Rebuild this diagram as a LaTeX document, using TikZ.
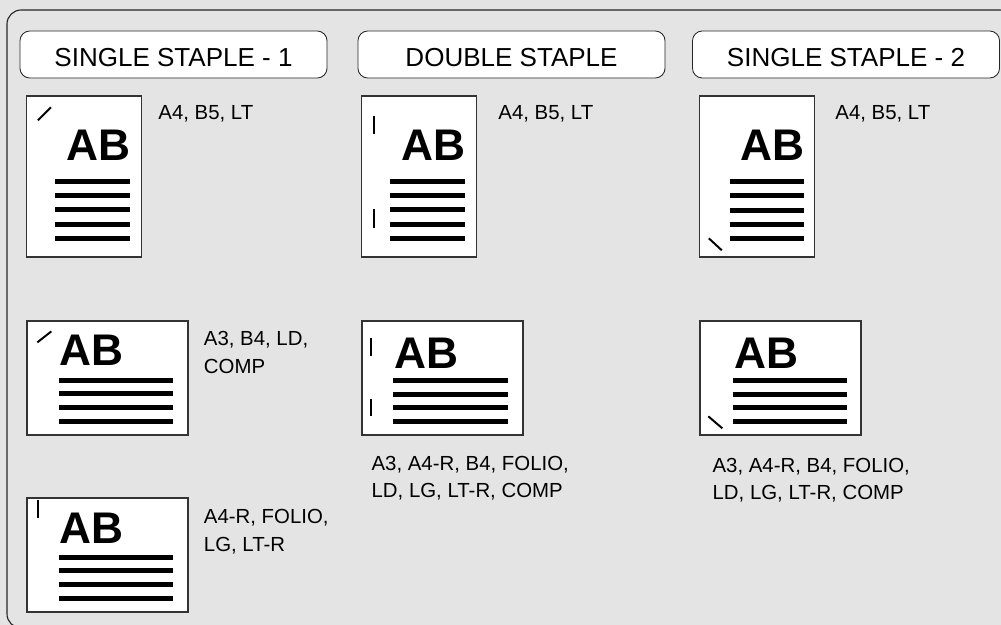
\documentclass[tikz,border=0pt]{standalone}
\usepackage{fontspec}
\setmainfont{Liberation Sans}
\usepackage{xcolor}
\usetikzlibrary{positioning, calc}

\definecolor{bggray}{HTML}{E4E4E4}

\begin{document}
\begin{tikzpicture}[
    x=0.025cm, y=-0.025cm,
    font=\fontsize{14.5}{19.5}\selectfont,
    every node/.style={inner sep=0pt},
    header/.style={draw=black!85, fill=white, rounded corners=7pt, line width=0.6pt,
                   minimum width=7.675cm, minimum height=1.175cm,
                   text height=16.9pt, text depth=0pt,
                   font=\fontsize{18.5}{22}\selectfont},
    portrait/.style={draw=black!80, fill=white, line width=0.9pt,
                     minimum width=2.875cm, minimum height=4.025cm},
    landscape/.style={draw=black!80, fill=white, line width=0.9pt,
                      minimum width=4.025cm, minimum height=2.85cm},
    bigab/.style={font=\fontsize{31.5}{32}\selectfont\bfseries},
    textline/.style={line width=3.6pt},
    staple/.style={line width=1.4pt},
    sizes/.style={align=left, anchor=north west},
]

% --------- Background and frame ----------
\fill[bggray, use as bounding box] (0,0) rectangle (1001,625);
\draw[black!85, line width=0.8pt, rounded corners=10pt] (7,10) rectangle (1014,628);

% --------- Headers ----------
\node[header] (ss1hd) at (173.5,54.5) {SINGLE STAPLE - 1};
\node[header] (dshd)  at (511.5,54.5) {DOUBLE STAPLE};
\node[header] (ss2hd) at (846,54.5)   {SINGLE STAPLE - 2};

% --------- Single staple - 1 ----------
\node[portrait]  (ss1port)  at (84,176.5) {};
\node[landscape] (ss1land)  at (107.5,378) {};
\node[landscape] (ss1landr) at (107.5,555) {};

\node[bigab, anchor=north east] at ($(ss1port.north west)+(105,34)$) {AB};
\node[bigab, anchor=north west] at ($(ss1land.north west)+(33,14)$) {AB};
\node[bigab, anchor=north west] at ($(ss1landr.north west)+(33,15)$) {AB};

\foreach \dy in {86,100,114,129,143}
  \draw[textline] ($(ss1port.north west)+(29,\dy)$) -- ++(75,0);
\foreach \dy in {60,73,87,101} {
  \draw[textline] ($(ss1land.north west)+(33,\dy)$) -- ++(114,0);
  \draw[textline] ($(ss1landr.north west)+(33,\dy)$) -- ++(114,0);
}

\draw[staple] ($(ss1port.north west)+(12,25)$) -- ++(13,-13);
\draw[staple] ($(ss1land.north west)+(11,22)$) -- ++(14,-11);
\draw[staple] ($(ss1landr.north west)+(12,3)$) -- ++(0,18);

\node[sizes] (ss1psz)  at ($(ss1port.north east)+(16,10)$)  {A4, B5, LT};
\node[sizes] (ss1lsz)  at ($(ss1land.north east)+(15,11)$)  {A3, B4, LD,\\COMP};
\node[sizes] (ss1rsz)  at ($(ss1landr.north east)+(15,12)$) {A4-R, FOLIO,\\LG, LT-R};

% --------- Double staple ----------
\node[portrait]  (dsport) at (419,176.5) {};
\node[landscape] (dsland) at (442.5,378) {};

\node[bigab, anchor=north east] at ($(dsport.north west)+(105,34)$) {AB};
\node[bigab, anchor=north west] at ($(dsland.north west)+(33,17)$) {AB};

\foreach \dy in {86,100,114,129,143}
  \draw[textline] ($(dsport.north west)+(29,\dy)$) -- ++(75,0);
\foreach \dy in {60,74,87,101}
  \draw[textline] ($(dsland.north west)+(32,\dy)$) -- ++(115,0);

\draw[staple] ($(dsport.north west)+(13,21)$)  -- ++(0,18);
\draw[staple] ($(dsport.north west)+(13,114)$) -- ++(0,19);
\draw[staple] ($(dsland.north west)+(10,18)$)  -- ++(0,18);
\draw[staple] ($(dsland.north west)+(10,79)$)  -- ++(0,17);

\node[sizes] (dspsz) at ($(dsport.north east)+(21,10)$) {A4, B5, LT};
\node[sizes] (dslsz) at ($(dsland.south west)+(10,20)$) {A3, A4-R, B4, FOLIO,\\LD, LG, LT-R, COMP};

% --------- Single staple - 2 ----------
\node[portrait]  (ss2port) at (757,176.5) {};
\node[landscape] (ss2land) at (780.5,378) {};

\node[bigab, anchor=north east] at ($(ss2port.north west)+(106,34)$) {AB};
\node[bigab, anchor=north west] at ($(ss2land.north west)+(35,17)$) {AB};

\foreach \dy in {86,100,115,129,143}
  \draw[textline] ($(ss2port.north west)+(31,\dy)$) -- ++(74,0);
\foreach \dy in {60,74,87,101}
  \draw[textline] ($(ss2land.north west)+(34,\dy)$) -- ++(114,0);

\draw[staple] ($(ss2port.north west)+(10,143)$) -- ++(13,12);
\draw[staple] ($(ss2land.north west)+(9,96)$)   -- ++(14,12);

\node[sizes] (ss2psz) at ($(ss2port.north east)+(20,10)$) {A4, B5, LT};
\node[sizes] (ss2lsz) at ($(ss2land.south west)+(13,22)$) {A3, A4-R, B4, FOLIO,\\LD, LG, LT-R, COMP};

\end{tikzpicture}
\end{document}
